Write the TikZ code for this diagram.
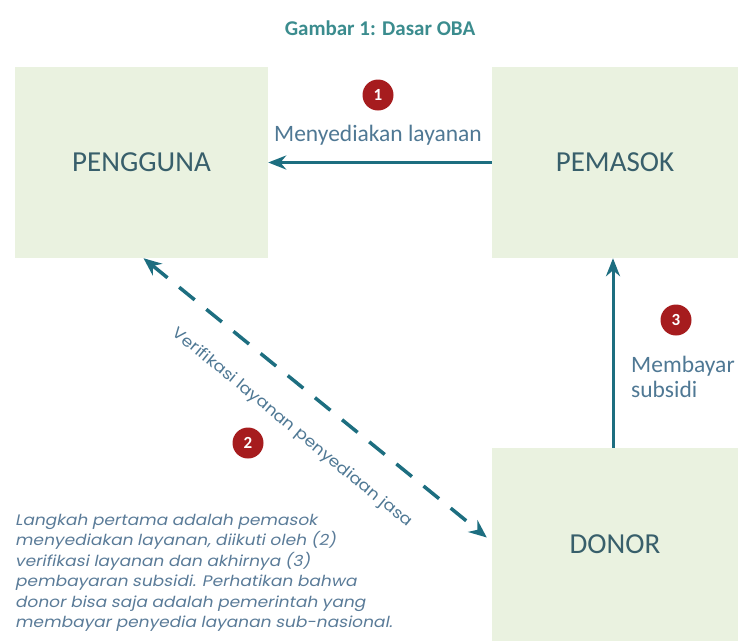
\documentclass[tikz,border=0pt]{standalone}
\usepackage{fontspec}
\setmainfont{Carlito}
\newfontfamily\geofont[FakeStretch=1.12]{Poppins}
\newfontfamily\geoit[FakeSlant=0.2,FakeStretch=1.12]{Poppins}
\usetikzlibrary{arrows.meta}
\definecolor{boxfill}{HTML}{EAF2E0}
\definecolor{arrowc}{HTML}{1D6E80}
\definecolor{labc}{HTML}{4F7894}
\definecolor{boxtxt}{HTML}{385F6B}
\definecolor{titlec}{HTML}{3B8C8E}
\definecolor{badgec}{HTML}{A61C1E}
\definecolor{parac}{HTML}{5A7B98}
\tikzset{
  box/.style={fill=boxfill, draw=none, inner sep=0pt, text=boxtxt,
    font=\fontsize{29}{32}\selectfont},
  badge/.style={circle, fill=badgec, draw=none, minimum size=31pt, inner sep=0pt,
    text=white, font=\bfseries\fontsize{17}{17}\selectfont},
  arr/.style={draw=arrowc, line width=3pt, -{Stealth[length=18pt,width=14pt]}},
  dasharr/.style={draw=arrowc, line width=3.5pt, dash pattern=on 20pt off 15pt,
    {Stealth[length=18pt,width=15pt]}-{Stealth[length=18pt,width=15pt]}},
  lab/.style={text=labc, font=\fontsize{23.5}{25}\selectfont, inner sep=0pt},
}
\begin{document}
\begin{tikzpicture}[x=1pt,y=-1pt]
\useasboundingbox (0,0) rectangle (738,641);
\node[titlec, font=\bfseries\fontsize{21}{23}\selectfont] (title) at (380,28) {Gambar 1: Dasar OBA};
\node[box, minimum width=253pt, minimum height=191pt] (peng) at (141.5,162.5) {PENGGUNA};
\node[box, minimum width=246pt, minimum height=191pt] (pema) at (615,162.5) {PEMASOK};
\node[box, minimum width=246pt, minimum height=193pt] (donor) at (615,544.5) {DONOR};
% arrow 1
\draw[arr] (pema.west) -- (peng.east);
\node[badge] (b1) at (378,95) {1};
\node[lab] (l1) at (378,135) {Menyediakan layanan};
% arrow 3
\draw[arr] ([xshift=-2pt]donor.north) -- ([xshift=-2pt]pema.south);
\node[badge] (b3) at (676,320) {3};
\node[lab, align=left, anchor=west] (l3) at (631,377) {Membayar\\subsidi};
% arrow 2
\draw[dasharr] ([xshift=2pt]peng.south) -- ([xshift=-5pt,yshift=7pt]donor.west);
\node[text=labc, font=\geofont\fontsize{15.5}{17}\selectfont, rotate=-39.3, inner sep=0pt] (l2) at (292,428) {Verifikasi layanan penyediaan jasa};
\node[badge] (b2) at (248,443) {2};
% paragraph
\node[text=parac, font=\geoit\fontsize{15.2}{20.5}\selectfont, align=left, anchor=north west, inner sep=0pt] (para) at (15,514) {Langkah pertama adalah pemasok\\menyediakan layanan, diikuti oleh (2)\\verifikasi layanan dan akhirnya (3)\\pembayaran subsidi. Perhatikan bahwa\\donor bisa saja adalah pemerintah yang\\membayar penyedia layanan sub-nasional.};
\end{tikzpicture}
\end{document}
